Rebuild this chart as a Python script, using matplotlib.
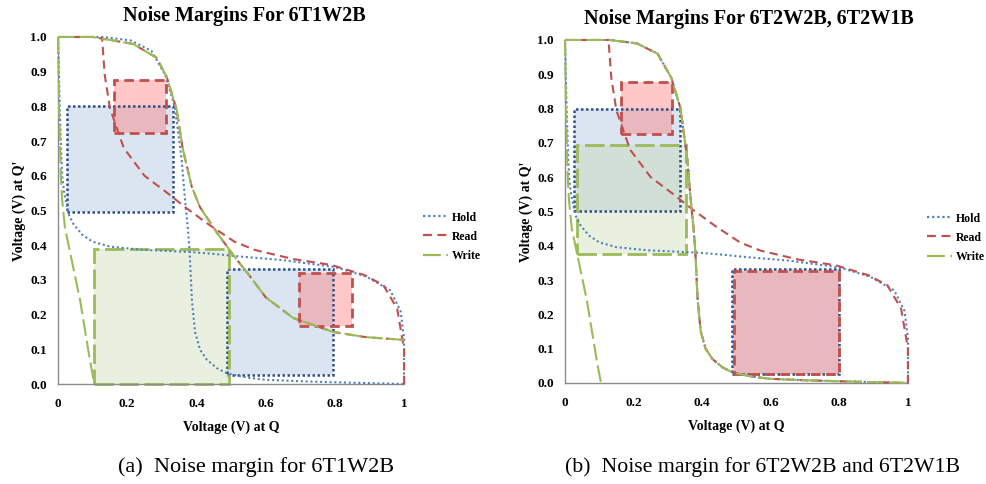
import matplotlib
matplotlib.use("Agg")
import matplotlib.pyplot as plt
from matplotlib.patches import Rectangle
from matplotlib.lines import Line2D

plt.rcParams['font.family'] = ['Liberation Serif', 'DejaVu Serif']

# inverter transfer curves, y = f(x); the mirrored curve is drawn as x = f(y)
hold_x = [0, 0.13, 0.21, 0.27, 0.31, 0.337, 0.357, 0.367, 0.375, 0.38, 0.387,
          0.396, 0.41, 0.43, 0.46, 0.49, 0.55, 0.6, 0.7, 0.8, 1.0]
hold_y = [1.0, 1.0, 0.99, 0.96, 0.89, 0.80, 0.65, 0.53, 0.45, 0.386, 0.24,
          0.15, 0.10, 0.07, 0.045, 0.03, 0.018, 0.012, 0.008, 0.005, 0.0]

read_x = [0, 0.1, 0.217, 0.285, 0.314, 0.343, 0.36, 0.386, 0.41, 0.46, 0.506,
          0.555, 0.6, 0.68, 0.795, 0.89, 1.0]
read_y = [1.0, 1.0, 0.98, 0.94, 0.885, 0.79, 0.68, 0.57, 0.51, 0.435, 0.372,
          0.31, 0.25, 0.19, 0.15, 0.135, 0.127]

# write curve with the bit line pulled low (x as a function of y)
write_x = [0, 0.003, 0.008, 0.012, 0.02, 0.064, 0.092, 0.105]
write_y = [1.0, 0.8, 0.6, 0.53, 0.45, 0.24, 0.07, 0.0]

# noise margin squares: (x0, x1, y0, y1)
a_hold_boxes = [(0.025, 0.333, 0.495, 0.80), (0.488, 0.795, 0.027, 0.332)]
a_read_boxes = [(0.162, 0.312, 0.723, 0.876), (0.697, 0.85, 0.167, 0.32)]
a_write_boxes = [(0.105, 0.495, 0.0, 0.39)]

b_hold_boxes = [(0.026, 0.335, 0.50, 0.80), (0.487, 0.799, 0.026, 0.332)]
b_read_boxes = [(0.163, 0.312, 0.726, 0.878), (0.493, 0.80, 0.026, 0.327)]
b_write_boxes = [(0.035, 0.353, 0.376, 0.694)]

xticks = [0, 0.2, 0.4, 0.6, 0.8, 1]
xticklabels = ['0', '0.2', '0.4', '0.6', '0.8', '1']
yticks = [i / 10 for i in range(11)]

BLUE = '#4f81bd'
RED = '#c0504d'
GREEN = '#9bbb59'
NAVY = '#2f4f86'

hold_ls = (0, (1, 1.3))
read_ls = (0, (4, 2.5))
write_ls = (0, (8, 2.5))

bold = {'family': 'Liberation Serif', 'weight': 'bold'}


def draw_boxes(ax, hold_boxes, read_boxes, write_boxes):
    for x0, x1, y0, y1 in hold_boxes:
        ax.add_patch(Rectangle((x0, y0), x1 - x0, y1 - y0, facecolor=BLUE,
                               alpha=0.2, edgecolor='none', zorder=1))
    for x0, x1, y0, y1 in write_boxes:
        ax.add_patch(Rectangle((x0, y0), x1 - x0, y1 - y0, facecolor='#bfd3a0',
                               alpha=0.32, edgecolor='none', zorder=1.1))
    for x0, x1, y0, y1 in read_boxes:
        ax.add_patch(Rectangle((x0, y0), x1 - x0, y1 - y0, facecolor='#ff7373',
                               alpha=0.4, edgecolor='none', zorder=1.2))
    for x0, x1, y0, y1 in hold_boxes:
        ax.add_patch(Rectangle((x0, y0), x1 - x0, y1 - y0, fill=False,
                               edgecolor=NAVY, lw=1.8, linestyle=(0, (1, 1)),
                               zorder=2, clip_on=False))
    for x0, x1, y0, y1 in write_boxes:
        ax.add_patch(Rectangle((x0, y0), x1 - x0, y1 - y0, fill=False,
                               edgecolor=GREEN, lw=2, linestyle=(0, (7, 2)),
                               zorder=2.1, clip_on=False))
    for x0, x1, y0, y1 in read_boxes:
        ax.add_patch(Rectangle((x0, y0), x1 - x0, y1 - y0, fill=False,
                               edgecolor=RED, lw=2, linestyle=(0, (3.5, 2)),
                               zorder=2.2, clip_on=False))


def setup_axes(ax, title):
    ax.set_xlim(0, 1)
    ax.set_ylim(0, 1)
    for side in ['top', 'right']:
        ax.spines[side].set_visible(False)
    for side in ['left', 'bottom']:
        ax.spines[side].set_color('#8c8c8c')
        ax.spines[side].set_linewidth(1)
    ax.set_xticks(xticks)
    ax.set_xticklabels(xticklabels)
    ax.set_yticks(yticks)
    ax.set_yticklabels(['%.1f' % v for v in yticks])
    ax.tick_params(length=0, labelsize=9.5)
    ax.tick_params(axis='y', pad=8)
    ax.tick_params(axis='x', pad=10)
    for lab in ax.get_xticklabels() + ax.get_yticklabels():
        lab.set_fontweight('bold')
    ax.set_xlabel('Voltage (V) at Q', fontsize=10, labelpad=8, **bold)
    ax.set_ylabel("Voltage (V) at Q'", fontsize=10, labelpad=3, **bold)
    ax.text(0.537, 1.033, title, transform=ax.transAxes, ha='center',
            va='bottom', fontsize=14.5, **bold)
    handles = [Line2D([], [], color=BLUE, lw=1.6, linestyle=hold_ls),
               Line2D([], [], color=RED, lw=1.6, linestyle=read_ls),
               Line2D([], [], color=GREEN, lw=1.6, linestyle=write_ls)]
    ax.legend(handles, ['Hold', 'Read', 'Write'], loc='upper left',
              bbox_to_anchor=(1.055, 0.497), frameon=False, borderpad=0,
              borderaxespad=0, handlelength=2.1, handletextpad=0.35,
              labelspacing=0.6, prop={**bold, 'size': 8.5})


def curve(ax, x, y, color, ls, z):
    ax.plot(x, y, color=color, lw=1.5, linestyle=ls, zorder=z, clip_on=False)


fig = plt.figure(figsize=(9.87, 4.84), dpi=100)
ax1 = fig.add_axes([0.0588, 0.2066, 0.3506, 0.717])
ax2 = fig.add_axes([0.5724, 0.2087, 0.3475, 0.7087])

# (a) 6T1W2B
draw_boxes(ax1, a_hold_boxes, a_read_boxes, a_write_boxes)
curve(ax1, hold_x, hold_y, BLUE, hold_ls, 3)
curve(ax1, hold_y, hold_x, BLUE, hold_ls, 3)
curve(ax1, read_x, read_y, RED, read_ls, 3.1)
curve(ax1, read_y, read_x, RED, read_ls, 3.1)
curve(ax1, read_x, read_y, GREEN, write_ls, 3.2)
curve(ax1, write_x, write_y, GREEN, write_ls, 3.2)
setup_axes(ax1, 'Noise Margins For 6T1W2B')

# (b) 6T2W2B, 6T2W1B
draw_boxes(ax2, b_hold_boxes, b_read_boxes, b_write_boxes)
curve(ax2, hold_x, hold_y, BLUE, hold_ls, 3)
curve(ax2, hold_y, hold_x, BLUE, hold_ls, 3)
curve(ax2, hold_x, hold_y, RED, read_ls, 3.1)
curve(ax2, read_y, read_x, RED, read_ls, 3.1)
curve(ax2, hold_x, hold_y, GREEN, write_ls, 3.2)
curve(ax2, write_x, write_y, GREEN, write_ls, 3.2)
setup_axes(ax2, 'Noise Margins For 6T2W2B, 6T2W1B')

fig.text(0.2594, 0.035, '(a)  Noise margin for 6T1W2B', ha='center',
         va='center', fontsize=16, family='Liberation Serif')
fig.text(0.7725, 0.035, '(b)  Noise margin for 6T2W2B and 6T2W1B', ha='center',
         va='center', fontsize=15.7, family='Liberation Serif')

fig.savefig('out.png', dpi=100)
